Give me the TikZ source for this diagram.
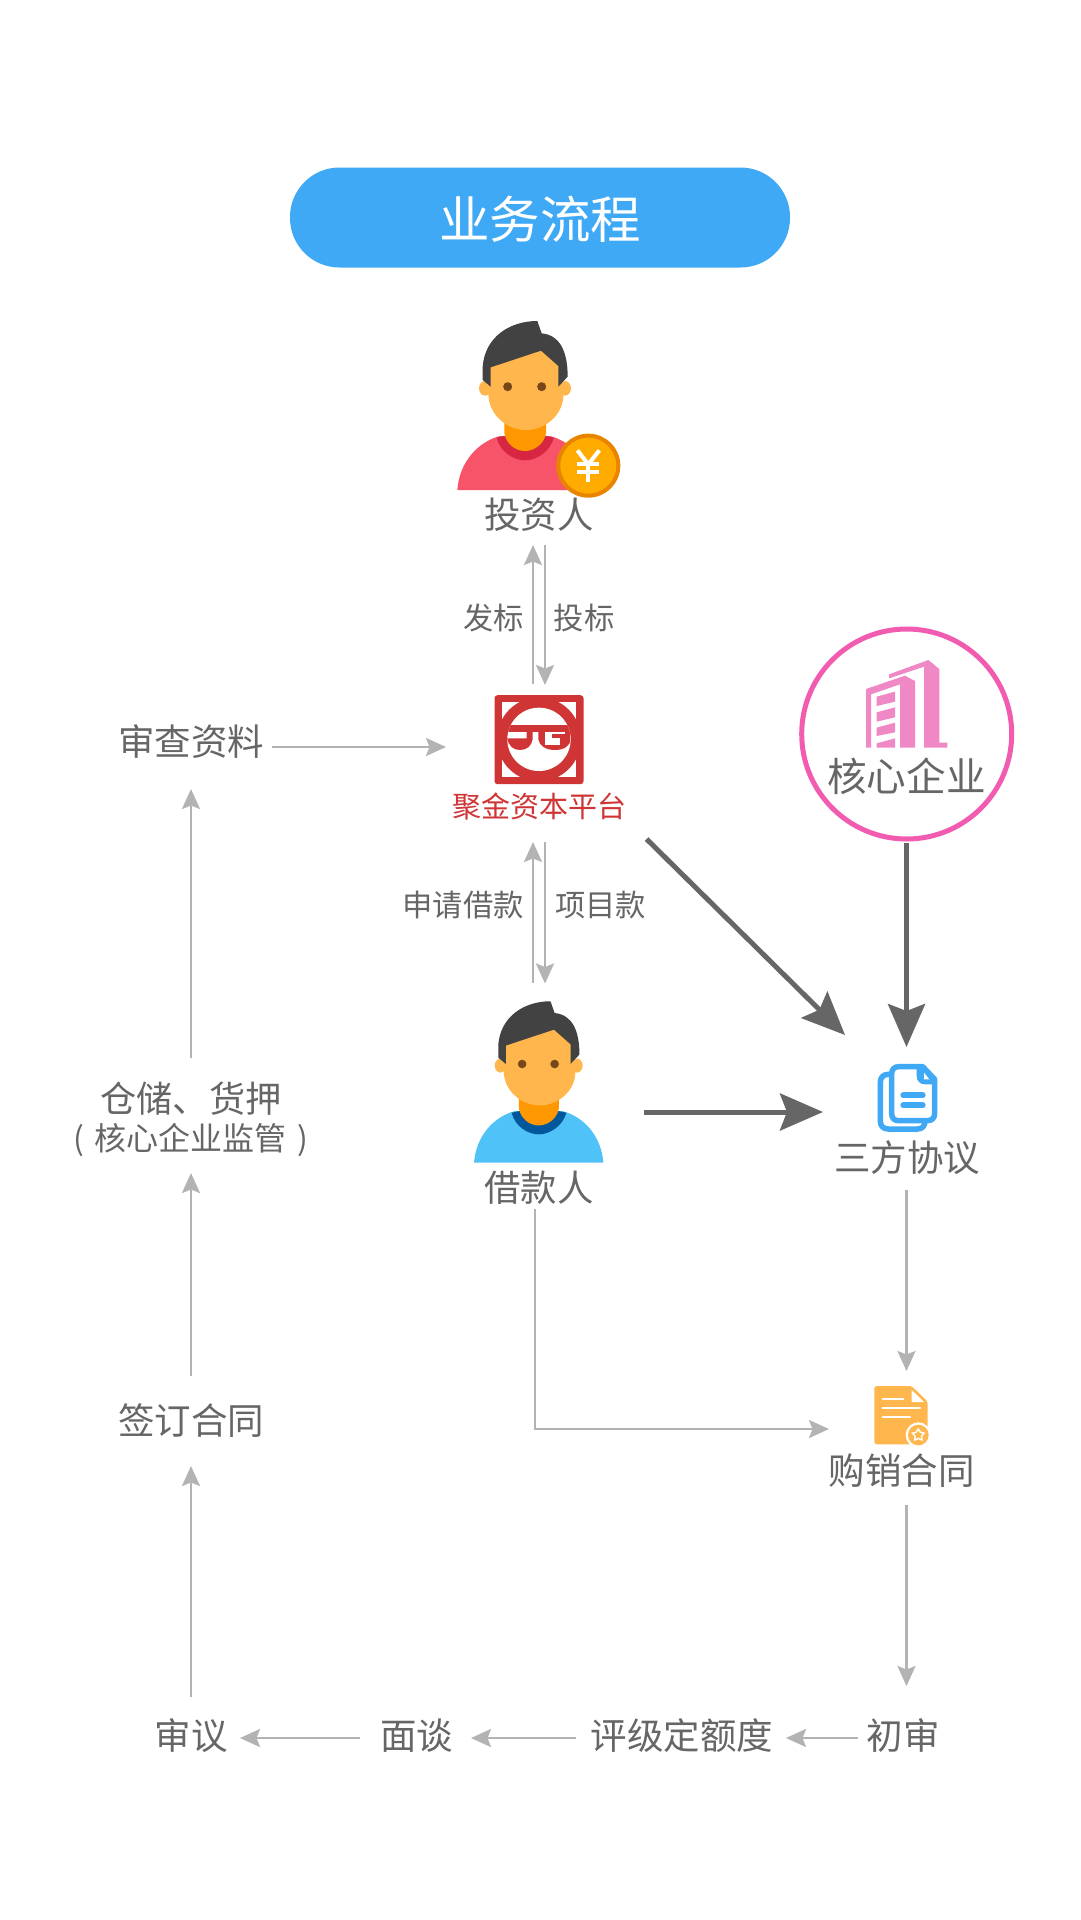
\documentclass[tikz,border=0pt]{standalone}
\usepackage{fontspec}
\setmainfont{Noto Sans CJK SC}
\usetikzlibrary{arrows.meta,shapes.geometric}
\definecolor{txt}{HTML}{666666}
\definecolor{blu}{HTML}{3FA9F5}
\definecolor{redl}{HTML}{D03535}
\definecolor{pnk}{HTML}{F25CB0}
\definecolor{bld}{HTML}{F088C6}
\definecolor{arrl}{HTML}{B3B3B3}
\definecolor{arrd}{HTML}{666666}
\definecolor{skin}{HTML}{FFB74D}
\definecolor{neckc}{HTML}{FF9800}
\definecolor{hair}{HTML}{424242}
\definecolor{eye}{HTML}{784719}
\definecolor{bodyred}{HTML}{F75469}
\definecolor{collarred}{HTML}{D62641}
\definecolor{bodyblue}{HTML}{4FC3F7}
\definecolor{collarblue}{HTML}{01579B}
\definecolor{coinin}{HTML}{FFAB00}
\definecolor{coinout}{HTML}{E88400}
\tikzset{
 lab/.style={font=\fontsize{#1}{#1}\selectfont,text=txt,inner sep=0pt,outer sep=0pt,text height=0.91*#1 pt,text depth=0.09*#1 pt},
 thinarr/.style={draw=arrl,line width=2.5pt,-{Stealth[length=20pt,width=18pt,inset=3.5pt]}},
 thickarr/.style={draw=arrd,line width=5pt,-{Stealth[length=43pt,width=37pt,inset=7pt]}},
 zm/.style={x=0.33333pt,y=-0.33333pt},
}
\newcommand{\personicon}[5]{%
\begin{scope}[shift={(#1,#2)},x=#3pt,y=-#3pt,shift={(-375,-630)}]
 \fill[skin] (255,325) ellipse (18 and 22);
 \fill[skin] (495,325) ellipse (18 and 22);
 \fill[#4] (172,630) .. controls (178,545) and (235,485) .. (300,468) -- (450,468) .. controls (515,485) and (572,545) .. (578,630) -- cycle;
 \fill[#5] (290,473) .. controls (300,515) and (340,541) .. (375,541) .. controls (410,541) and (450,515) .. (462,473) -- (375,455) -- cycle;
 \fill[neckc] (313,420) -- (313,460) .. controls (318,490) and (345,513) .. (375,513) .. controls (405,513) and (433,490) .. (438,460) -- (438,420) -- cycle;
 \fill[skin] (265,270) -- (265,345) .. controls (268,405) and (320,450) .. (378,450) .. controls (435,450) and (490,405) .. (490,345) -- (490,270) -- (480,240) -- (423,200) -- (272,250) -- cycle;
 \fill[hair] (272,320) -- (248,300) -- (248,260) .. controls (255,170) and (330,123) .. (412,123) -- (425,160) .. controls (480,165) and (503,215) .. (503,290) -- (475,320) -- (475,258) -- (423,212) -- (272,262) -- cycle;
 \fill[eye] (323,320) circle (13.5);
 \fill[eye] (425,320) circle (13.5);
\end{scope}}
\begin{document}
\begin{tikzpicture}[x=1pt,y=-1pt]
\useasboundingbox (0,0) rectangle (1080,1920);
\fill[white] (0,0) rectangle (1080,1920);
% title
\node[lab=50.5,text=white,fill=blu,rounded corners=49.5pt,minimum width=500pt,minimum height=100pt] (title) at (540,217.5) {业务流程};
% investor
\personicon{525}{490}{0.33333}{bodyred}{collarred}
\begin{scope}[shift={(400,280)},zm]
 \fill[coinin,draw=coinout,line width=4pt] (565,557) circle (90);
 \draw[white,line width=4pt] (532,511) -- (565,553) -- (598,511);
 \draw[white,line width=4pt] (565,553) -- (565,605);
 \draw[white,line width=4pt] (532,552) -- (598,552);
 \draw[white,line width=4pt] (532,577) -- (598,577);
\end{scope}
\node[lab=36.4] (inv) at (539,514) {投资人};
% platform logo
\node[fill=redl,rounded corners=3pt,minimum size=89pt,inner sep=0pt,outer sep=0pt] (plat) at (539,739.7) {};
\begin{scope}[shift={(420,670)},zm]
 \fill[white] (246,97) rectangle (468,320);
 \begin{scope}
  \clip (246,97) rectangle (468,320);
  \fill[redl] (357,208) circle (126);
 \end{scope}
 \fill[white] (357,208) circle (95);
 \begin{scope}
  \clip (357,208) circle (95);
  \fill[redl] (262,165) rectangle (452,186);
  \fill[redl] (338,186) -- (338,208) .. controls (335,228) and (320,240) .. (300,240) .. controls (280,240) and (265,228) .. (262,205) -- (320,205) -- (320,186) -- cycle;
  \fill[redl] (355,186) -- (355,208) .. controls (358,228) and (378,240) .. (405,240) .. controls (432,240) and (452,228) .. (452,205) -- (452,186) -- cycle;
  \fill[white] (375,186) rectangle (395,224);
  \fill[white] (395,205) rectangle (420,224);
  \fill[white] (395,186) rectangle (436,192);
 \end{scope}
\end{scope}
\node[lab=29,text=redl] (platT) at (539.5,806) {聚金资本平台};
% core enterprise
\node[circle,draw=pnk,line width=5pt,minimum size=210pt,inner sep=0pt,outer sep=0pt] (core) at (906.7,734) {};
\begin{scope}[shift={(860,655)},zm]
 \fill[bld,even odd rule] (18,102) -- (135,62) -- (165,78) -- (165,278) -- (120,278) -- (120,88) -- (33,118) -- (33,278) -- (18,278) -- cycle;
 \fill[bld] (50,125) -- (105,110) -- (105,140) -- (50,153) -- cycle;
 \fill[bld] (50,172) -- (105,157) -- (105,187) -- (50,200) -- cycle;
 \fill[bld] (50,218) -- (105,203) -- (105,232) -- (50,243) -- cycle;
 \fill[bld] (50,265) -- (105,250) -- (105,278) -- (50,278) -- cycle;
 \fill[bld] (87,58) -- (205,15) -- (238,42) -- (238,263) -- (262,263) -- (262,278) -- (192,278) -- (192,35) -- (87,70) -- cycle;
\end{scope}
\node[lab=39.6] (coreT) at (906.5,775) {核心企业};
% tripartite agreement icon
\begin{scope}[shift={(790,970)},zm,line join=round]
 \draw[blu,line width=5.5pt,fill=white] (295,313) .. controls (280,313) and (271,322) .. (271,337) -- (271,453) .. controls (271,468) and (280,477) .. (295,477) -- (382,477) .. controls (397,477) and (405,468) .. (405,453) -- (405,313) -- cycle;
 \draw[blu,line width=5.5pt,fill=white] (326,290) -- (398,290) -- (434,328) -- (434,430) .. controls (434,445) and (425,452) .. (412,452) -- (326,452) .. controls (313,452) and (305,445) .. (305,430) -- (305,312) .. controls (305,298) and (313,290) .. (326,290) -- cycle;
 \fill[blu] (380,290) -- (398,290) -- (434,328) -- (434,343) -- (405,343) .. controls (390,343) and (380,333) .. (380,318) -- cycle;
 \fill[white] (402,308) -- (418,328) -- (402,328) -- cycle;
 \draw[blu,line width=6pt,line cap=round] (340,376) -- (398,376);
 \draw[blu,line width=6pt,line cap=round] (340,406) -- (398,406);
\end{scope}
\node[lab=36.5] (tri) at (907,1157) {三方协议};
% sales contract icon
\begin{scope}[shift={(830,1360)},zm]
 \fill[skin,rounded corners=2.5pt] (133,78) -- (245,78) -- (293,125) -- (293,253) -- (133,253) -- cycle;
 \fill[white] (245,90) -- (282,126) -- (245,126) -- cycle;
 \draw[white,line width=2pt,line cap=round] (158,117) -- (220,117);
 \draw[white,line width=2pt,line cap=round] (158,143) -- (270,143);
 \draw[white,line width=2pt,line cap=round] (158,170) -- (240,170);
 \fill[white] (265,225) circle (38);
 \fill[skin] (265,225) circle (31);
\end{scope}
\node[star,star points=5,star point ratio=1.8,fill=white,minimum size=15pt,inner sep=0pt,outer sep=0pt] (starA) at (918.3,1435) {};
\node[star,star points=5,star point ratio=1.8,fill=skin,minimum size=9pt,inner sep=0pt,outer sep=0pt] (starB) at (918.3,1435) {};
\node[lab=36.5] (sale) at (901.5,1470) {购销合同};
% borrower
\personicon{538.7}{1162.7}{0.3184}{bodyblue}{collarblue}
\node[lab=36.4] (bor) at (539,1187) {借款人};
% text labels
\node[lab=30.3] (fa) at (493.5,617) {发标};
\node[lab=30.3] (tou) at (584,617) {投标};
\node[lab=30.3] (shen) at (463,904.5) {申请借款};
\node[lab=30.3] (xiang) at (600.5,904.5) {项目款};
\node[lab=36.5] (rev) at (191,741) {审查资料};
\node[lab=36.2] (store) at (191,1097.5) {仓储、货押};
\node[lab=32] (storeB) at (191,1137) {(\hspace{11pt}核心企业监管\hspace{11pt})};
\node[lab=36.5] (sign) at (191,1420) {签订合同};
\node[lab=36.5] (audit) at (191,1735) {审议};
\node[lab=36.5] (talk) at (416.5,1735) {面谈};
\node[lab=36.5] (rate) at (682,1735) {评级定额度};
\node[lab=36.5] (first) at (903,1735) {初审};
% connectors
\draw[thinarr] ([shift={(-6,-55.5)}]plat.center) -- ([shift={(-6,31)}]inv.center);
\draw[thinarr] ([shift={(6,31)}]inv.center) -- ([shift={(6,-54.7)}]plat.center);
\draw[thinarr] ([shift={(-6,-204)}]bor.center) -- ([shift={(-6.5,36)}]platT.center);
\draw[thinarr] ([shift={(5.5,36)}]platT.center) -- ([shift={(6,-203.5)}]bor.center);
\draw[thinarr] ([shift={(81,6)}]rev.center) -- ([shift={(-93,7.3)}]plat.center);
\draw[thickarr] ([shift={(107,33)}]platT.center) -- ([shift={(-62,-122)}]tri.center);
\draw[thickarr] ([shift={(-0.2,108.5)}]core.center) -- ([shift={(-0.5,-110)}]tri.center);
\draw[thickarr] ([shift={(105,-75)}]bor.center) -- ([shift={(-84,-45)}]tri.center);
\draw[thinarr] ([shift={(-0.5,33)}]tri.center) -- ([shift={(5,-99)}]sale.center);
\draw[thinarr] ([shift={(-4,22)}]bor.center) |- ([shift={(-72.5,-41)}]sale.center);
\draw[thinarr] ([shift={(5,35)}]sale.center) -- ([shift={(3.5,-49)}]first.center);
\draw[thinarr] ([shift={(-45,3)}]first.center) -- ([shift={(104,3)}]rate.center);
\draw[thinarr] ([shift={(-106.5,3)}]rate.center) -- ([shift={(54.5,3)}]talk.center);
\draw[thinarr] ([shift={(-56.5,3)}]talk.center) -- ([shift={(49,3)}]audit.center);
\draw[thinarr] ([shift={(0,-38)}]audit.center) -- ([shift={(0,46)}]sign.center);
\draw[thinarr] ([shift={(0,-44)}]sign.center) -- ([shift={(0,36)}]storeB.center);
\draw[thinarr] ([shift={(0,-39.5)}]store.center) -- ([shift={(0,48)}]rev.center);
\end{tikzpicture}
\end{document}
